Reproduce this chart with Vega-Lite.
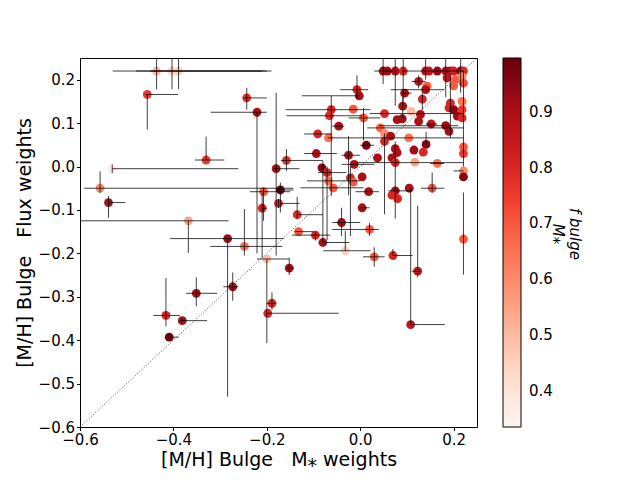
{
  "$schema": "https://vega.github.io/schema/vega-lite/v6.json",
  "width": 397,
  "height": 369,
  "autosize": {"type": "none"},
  "padding": {"left": 80, "top": 58, "right": 163, "bottom": 53},
  "config": {
    "font": "DejaVu Sans",
    "view": {"stroke": "#000", "strokeWidth": 1},
    "axis": {
      "grid": false, "domain": false, "tickColor": "#000", "tickSize": 3.5,
      "labelFontSize": 15, "labelColor": "#000", "titleFontSize": 19,
      "titleFontWeight": "normal", "titleColor": "#000", "labelFlush": false
    }
  },
  "data": {"values": [
    {"x":-0.436,"y":0.22,"f":0.5,"xlo":-0.53,"xhi":-0.2,"ylo":0.178,"yhi":0.25},
    {"x":-0.403,"y":0.22,"f":0.45,"xlo":-0.48,"xhi":-0.21,"ylo":0.178,"yhi":0.25},
    {"x":-0.389,"y":0.22,"f":0.45,"xlo":-0.45,"xhi":-0.19,"ylo":0.178,"yhi":0.25},
    {"x":-0.456,"y":0.166,"f":0.75,"xlo":-0.46,"xhi":-0.39,"ylo":0.085,"yhi":0.166},
    {"x":-0.243,"y":0.158,"f":0.78,"xlo":-0.25,"xhi":-0.2,"ylo":0.131,"yhi":0.181},
    {"x":-0.221,"y":0.125,"f":0.9,"xlo":-0.32,"xhi":-0.2,"ylo":-0.2,"yhi":0.125},
    {"x":-0.33,"y":0.015,"f":0.75,"xlo":-0.354,"xhi":-0.291,"ylo":0.015,"yhi":0.069},
    {"x":-0.531,"y":-0.005,"f":0.38,"xlo":-0.531,"xhi":-0.261,"ylo":-0.015,"yhi":0.005},
    {"x":-0.557,"y":-0.05,"f":0.6,"xlo":-0.591,"xhi":-0.143,"ylo":-0.061,"yhi":-0.011},
    {"x":-0.539,"y":-0.083,"f":0.9,"xlo":-0.539,"xhi":-0.503,"ylo":-0.118,"yhi":-0.068},
    {"x":-0.368,"y":-0.125,"f":0.55,"xlo":-0.6,"xhi":-0.282,"ylo":-0.199,"yhi":-0.125},
    {"x":-0.284,"y":-0.166,"f":0.92,"xlo":-0.407,"xhi":-0.164,"ylo":-0.53,"yhi":-0.166},
    {"x":-0.248,"y":-0.184,"f":0.65,"xlo":-0.321,"xhi":-0.167,"ylo":-0.205,"yhi":-0.098},
    {"x":-0.207,"y":-0.058,"f":0.7,"xlo":-0.236,"xhi":-0.15,"ylo":-0.125,"yhi":-0.049},
    {"x":-0.171,"y":-0.054,"f":0.98,"xlo":-0.178,"xhi":-0.143,"ylo":-0.106,"yhi":-0.037},
    {"x":-0.175,"y":-0.085,"f":0.8,"xlo":-0.17,"xhi":-0.13,"ylo":-0.095,"yhi":-0.075},
    {"x":-0.21,"y":-0.096,"f":0.8,"xlo":-0.21,"xhi":-0.2,"ylo":-0.21,"yhi":-0.06},
    {"x":-0.18,"y":-0.005,"f":0.9,"xlo":-0.185,"xhi":-0.13,"ylo":-0.205,"yhi":0.17},
    {"x":-0.158,"y":0.014,"f":0.78,"xlo":-0.17,"xhi":-0.08,"ylo":-0.01,"yhi":0.04},
    {"x":-0.135,"y":-0.111,"f":0.78,"xlo":-0.133,"xhi":-0.08,"ylo":-0.12,"yhi":-0.07},
    {"x":-0.132,"y":-0.15,"f":0.7,"xlo":-0.14,"xhi":-0.1},
    {"x":-0.2,"y":-0.213,"f":0.5,"xlo":-0.221,"xhi":-0.153,"ylo":-0.407,"yhi":-0.213},
    {"x":-0.152,"y":-0.234,"f":0.9,"xlo":-0.158,"xhi":-0.142,"ylo":-0.25,"yhi":-0.21},
    {"x":-0.096,"y":-0.158,"f":0.8,"xlo":-0.146,"xhi":-0.064,"ylo":-0.17,"yhi":-0.15},
    {"x":-0.08,"y":-0.175,"f":0.9,"xlo":-0.08,"xhi":-0.023,"ylo":-0.175,"yhi":0.013},
    {"x":-0.032,"y":-0.194,"f":0.45,"xlo":-0.079,"xhi":0.022,"ylo":-0.194,"yhi":-0.148},
    {"x":0.02,"y":-0.145,"f":0.7,"xlo":-0.06,"xhi":0.04,"ylo":-0.16,"yhi":-0.13},
    {"x":0.03,"y":-0.208,"f":0.7,"xlo":0.006,"xhi":0.052,"ylo":-0.231,"yhi":-0.186},
    {"x":0.07,"y":-0.205,"f":0.8,"xlo":0.07,"xhi":0.112,"ylo":-0.205,"yhi":-0.19},
    {"x":0.123,"y":-0.241,"f":0.85,"xlo":0.11,"xhi":0.13,"ylo":-0.255,"yhi":-0.09},
    {"x":0.108,"y":-0.364,"f":0.85,"xlo":0.108,"xhi":0.181,"ylo":-0.364,"yhi":-0.05},
    {"x":0.221,"y":-0.167,"f":0.7,"ylo":-0.249,"yhi":-0.06},
    {"x":-0.351,"y":-0.292,"f":0.9,"xlo":-0.373,"xhi":-0.306,"ylo":-0.322,"yhi":-0.255},
    {"x":-0.416,"y":-0.343,"f":0.8,"xlo":-0.443,"xhi":-0.386,"ylo":-0.368,"yhi":-0.257},
    {"x":-0.381,"y":-0.355,"f":0.9,"xlo":-0.386,"xhi":-0.328,"ylo":-0.36,"yhi":-0.35},
    {"x":-0.409,"y":-0.393,"f":0.98,"xlo":-0.41,"xhi":-0.389,"ylo":-0.4,"yhi":-0.385},
    {"x":-0.273,"y":-0.277,"f":0.9,"xlo":-0.293,"xhi":-0.261,"ylo":-0.309,"yhi":-0.244},
    {"x":-0.189,"y":-0.315,"f":0.8,"xlo":-0.2,"xhi":-0.18,"ylo":-0.33,"yhi":-0.29},
    {"x":-0.198,"y":-0.338,"f":0.8,"xlo":-0.198,"xhi":-0.046},
    {"x":0.049,"y":0.22,"f":0.9,"xlo":0.03,"xhi":0.07,"ylo":0.19,"yhi":0.25},
    {"x":0.058,"y":0.22,"f":0.92},
    {"x":0.075,"y":0.22,"f":0.9,"ylo":0.14,"yhi":0.25},
    {"x":0.092,"y":0.22,"f":0.8,"xlo":0.09,"xhi":0.221,"ylo":0.15,"yhi":0.25},
    {"x":0.14,"y":0.22,"f":0.9,"ylo":0.2,"yhi":0.25},
    {"x":0.147,"y":0.22,"f":0.85},
    {"x":0.165,"y":0.22,"f":0.93},
    {"x":0.183,"y":0.22,"f":0.9,"ylo":0.16,"yhi":0.25},
    {"x":0.193,"y":0.22,"f":0.92},
    {"x":0.2,"y":0.22,"f":0.82},
    {"x":0.215,"y":0.22,"f":0.95,"ylo":0.17,"yhi":0.25},
    {"x":0.221,"y":0.22,"f":0.8},
    {"x":0.186,"y":0.204,"f":0.85},
    {"x":0.204,"y":0.2,"f":0.7},
    {"x":0.218,"y":0.207,"f":0.6},
    {"x":0.221,"y":0.192,"f":0.72,"ylo":0.0,"yhi":0.22},
    {"x":0.2,"y":0.186,"f":0.7},
    {"x":0.125,"y":0.196,"f":0.85,"xlo":0.11,"xhi":0.14,"ylo":0.18,"yhi":0.21},
    {"x":0.143,"y":0.185,"f":0.7},
    {"x":0.14,"y":0.177,"f":0.9,"xlo":0.065,"xhi":0.18},
    {"x":0.095,"y":0.169,"f":0.9,"xlo":0.09,"xhi":0.11},
    {"x":0.133,"y":0.155,"f":0.8,"ylo":0.13,"yhi":0.17},
    {"x":-0.007,"y":0.177,"f":0.8,"xlo":-0.043,"xhi":0.017,"ylo":0.155,"yhi":0.21},
    {"x":-0.002,"y":0.163,"f":0.9,"xlo":-0.125,"xhi":-0.002},
    {"x":0.091,"y":0.139,"f":0.9,"ylo":0.11,"yhi":0.16},
    {"x":0.109,"y":0.127,"f":0.5},
    {"x":0.129,"y":0.12,"f":0.9},
    {"x":0.125,"y":0.104,"f":0.9},
    {"x":0.152,"y":0.098,"f":0.85,"xlo":0.14,"xhi":0.165},
    {"x":0.193,"y":0.146,"f":0.8,"ylo":0.066,"yhi":0.21},
    {"x":0.218,"y":0.15,"f":0.65},
    {"x":0.19,"y":0.135,"f":0.8},
    {"x":0.2,"y":0.131,"f":0.95},
    {"x":0.218,"y":0.131,"f":0.75},
    {"x":0.208,"y":0.116,"f":0.92},
    {"x":0.218,"y":0.112,"f":0.8},
    {"x":0.183,"y":0.094,"f":0.92,"xlo":0.04,"xhi":0.21},
    {"x":0.19,"y":0.081,"f":0.9},
    {"x":-0.062,"y":0.131,"f":0.8,"xlo":-0.16,"xhi":0.022,"ylo":-0.068,"yhi":0.163},
    {"x":-0.066,"y":0.117,"f":0.78,"xlo":-0.158,"xhi":0.004},
    {"x":-0.015,"y":0.132,"f":0.7},
    {"x":0.007,"y":0.112,"f":0.7,"xlo":-0.025,"xhi":0.043,"ylo":0.06,"yhi":0.135},
    {"x":0.052,"y":0.122,"f":0.8,"xlo":0.02,"xhi":0.221},
    {"x":0.079,"y":0.108,"f":0.9},
    {"x":0.09,"y":0.11,"f":0.92},
    {"x":-0.046,"y":0.093,"f":0.9,"xlo":-0.06,"xhi":-0.035},
    {"x":0.043,"y":0.089,"f":0.68,"xlo":0.015,"xhi":0.221},
    {"x":0.052,"y":0.076,"f":0.6,"ylo":-0.11,"yhi":0.076},
    {"x":0.065,"y":0.07,"f":0.9},
    {"x":-0.091,"y":0.075,"f":0.8,"xlo":-0.12,"xhi":-0.06},
    {"x":-0.068,"y":0.066,"f":0.65,"xlo":-0.07,"xhi":0.221},
    {"x":0.104,"y":0.066,"f":0.65},
    {"x":0.013,"y":0.049,"f":0.97,"xlo":0.0,"xhi":0.03},
    {"x":0.052,"y":0.058,"f":0.8},
    {"x":0.075,"y":0.041,"f":0.9,"ylo":-0.056,"yhi":0.058},
    {"x":0.079,"y":0.032,"f":0.9},
    {"x":0.115,"y":0.038,"f":0.92},
    {"x":0.141,"y":0.051,"f":0.95,"ylo":0.05,"yhi":0.08},
    {"x":0.135,"y":0.033,"f":0.8},
    {"x":0.221,"y":0.045,"f":0.7},
    {"x":0.221,"y":0.03,"f":0.75},
    {"x":-0.094,"y":0.03,"f":0.9,"xlo":-0.12,"xhi":-0.05},
    {"x":-0.025,"y":0.026,"f":0.9,"xlo":-0.04,"xhi":0.0,"ylo":-0.066,"yhi":0.07},
    {"x":-0.082,"y":-0.003,"f":0.95},
    {"x":-0.071,"y":-0.014,"f":0.8,"xlo":-0.09,"xhi":-0.03,"ylo":-0.17,"yhi":0.0},
    {"x":-0.013,"y":0.005,"f":0.9,"xlo":-0.04,"xhi":0.03},
    {"x":0.037,"y":0.02,"f":0.9},
    {"x":0.068,"y":0.02,"f":0.9},
    {"x":0.075,"y":0.009,"f":0.8,"xlo":-0.007,"xhi":0.221},
    {"x":0.117,"y":0.01,"f":0.55},
    {"x":0.165,"y":0.007,"f":0.65,"xlo":0.15,"xhi":0.18},
    {"x":0.221,"y":-0.01,"f":0.6,"xlo":0.2,"xhi":0.221},
    {"x":0.221,"y":-0.024,"f":0.95},
    {"x":-0.068,"y":-0.033,"f":0.65,"xlo":-0.114,"xhi":0.0},
    {"x":-0.021,"y":-0.026,"f":0.8,"ylo":-0.16,"yhi":0.0},
    {"x":-0.015,"y":-0.036,"f":0.7},
    {"x":0.004,"y":-0.024,"f":0.9},
    {"x":-0.058,"y":-0.049,"f":0.7,"xlo":-0.128,"xhi":0.007},
    {"x":0.018,"y":-0.058,"f":0.9,"xlo":-0.01,"xhi":0.04},
    {"x":0.075,"y":-0.056,"f":0.92,"xlo":0.06,"xhi":0.11,"ylo":-0.12,"yhi":-0.056},
    {"x":0.068,"y":-0.066,"f":0.8},
    {"x":0.08,"y":-0.074,"f":0.8},
    {"x":0.105,"y":-0.05,"f":0.9},
    {"x":0.154,"y":-0.05,"f":0.7,"xlo":0.13,"xhi":0.18,"ylo":-0.06,"yhi":-0.014},
    {"x":0.004,"y":-0.095,"f":0.9,"xlo":0.0,"xhi":0.02},
    {"x":-0.04,"y":-0.129,"f":0.92,"xlo":-0.06,"xhi":0.0,"ylo":-0.16,"yhi":-0.095}
  ]},
  "layer": [
    {
      "data": {"values": [{"x": -0.6, "y": -0.6, "x2": 0.25, "y2": 0.25}]},
      "mark": {"type": "rule", "color": "#000", "strokeWidth": 0.9, "strokeDash": [1, 2], "opacity": 0.8},
      "encoding": {
        "x": {"field": "x", "type": "quantitative", "scale": {"domain": [-0.6, 0.25], "nice": false, "zero": false},
              "axis": {"values": [-0.6, -0.4, -0.2, 0.0, 0.2], "format": ".1f", "title": "[M/H] Bulge\u00a0\u00a0\u00a0M\u204e weights", "titlePadding": 3}},
        "y": {"field": "y", "type": "quantitative", "scale": {"domain": [-0.6, 0.25], "nice": false, "zero": false},
              "axis": {"values": [-0.6, -0.5, -0.4, -0.3, -0.2, -0.1, 0.0, 0.1, 0.2], "format": ".1f", "title": "[M/H] Bulge\u00a0\u00a0\u00a0Flux weights", "titlePadding": 4}},
        "x2": {"field": "x2"},
        "y2": {"field": "y2"}
      }
    },
    {
      "mark": {"type": "circle", "size": 78, "opacity": 1, "clip": true},
      "encoding": {
        "x": {"field": "x", "type": "quantitative"},
        "y": {"field": "y", "type": "quantitative"},
        "color": {
          "field": "f", "type": "quantitative",
          "scale": {
            "domain": [0.336, 0.4185, 0.501, 0.5835, 0.666, 0.7485, 0.831, 0.9135, 0.996],
            "range": ["#fff5f0", "#fee0d2", "#fcbba1", "#fc9272", "#fb6a4a", "#ef3b2c", "#cb181d", "#a50f15", "#67000d"]
          },
          "legend": {
            "title": ["f\u00a0bulge", "\u00a0\u00a0M\u204e"],
            "titleOrient": "right",
            "titleFontStyle": "italic",
            "titleFontWeight": "normal",
            "titleFontSize": 15,
            "titleColor": "#000",
            "titlePadding": 14,
            "values": [0.4, 0.5, 0.6, 0.7, 0.8, 0.9],
            "format": ".1f",
            "gradientLength": 369,
            "gradientThickness": 18,
            "gradientStrokeColor": "#000",
            "gradientStrokeWidth": 1,
            "labelFontSize": 15,
            "labelColor": "#000",
            "labelOffset": 8,
            "offset": 26,
            "padding": 0
          }
        }
      }
    },
    {
      "transform": [{"filter": "isValid(datum.xlo)"}],
      "mark": {"type": "rule", "color": "#000", "strokeWidth": 1, "opacity": 0.75, "clip": true},
      "encoding": {
        "x": {"field": "xlo", "type": "quantitative"},
        "x2": {"field": "xhi"},
        "y": {"field": "y", "type": "quantitative"}
      }
    },
    {
      "transform": [{"filter": "isValid(datum.ylo)"}],
      "mark": {"type": "rule", "color": "#000", "strokeWidth": 1, "opacity": 0.75, "clip": true},
      "encoding": {
        "x": {"field": "x", "type": "quantitative"},
        "y": {"field": "ylo", "type": "quantitative"},
        "y2": {"field": "yhi"}
      }
    }
  ]
}
